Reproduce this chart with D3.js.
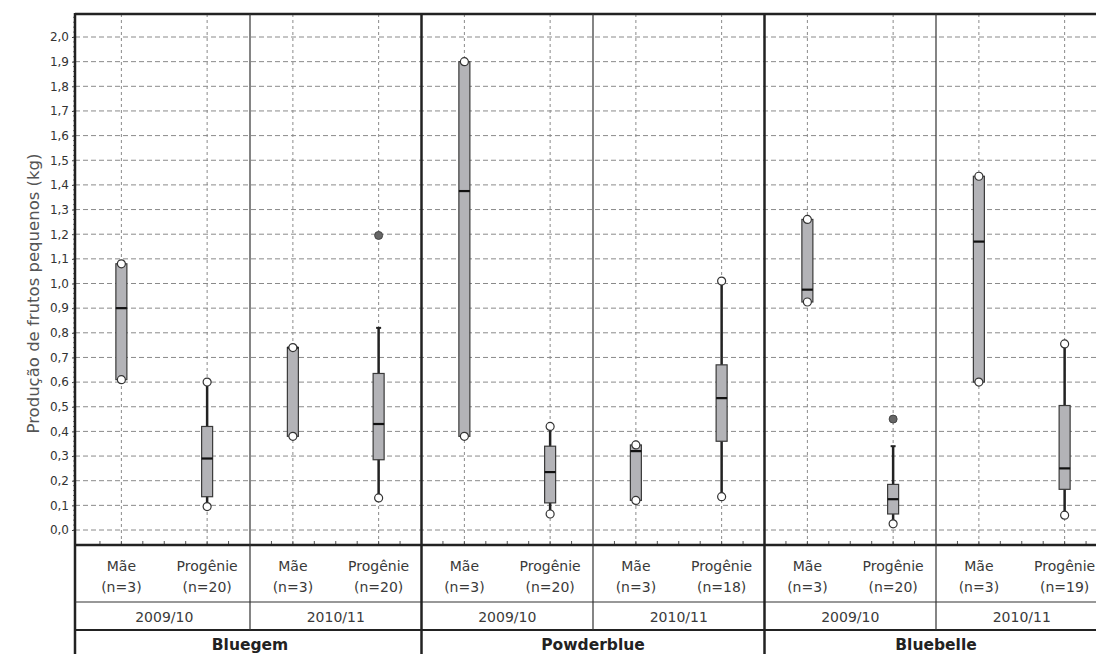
<!DOCTYPE html>
<html>
<head>
<meta charset="utf-8">
<script src="https://cdn.jsdelivr.net/npm/d3@7"></script>
<style>
  body { margin: 0; background: #fff; }
  svg { display: block; font-family: 'DejaVu Sans', sans-serif; }
  .grid line { stroke: #8a8a8a; stroke-width: 1; }
  .tick text { fill: #333; }
  .lbl { fill: #3a3a3a; }
</style>
</head>
<body>
<svg id="chart"></svg>
<script>
var cultivars = ['Bluegem', 'Powderblue', 'Bluebelle']
var seasons = ['2009/10', '2010/11']
var types = ['Mãe', 'Progênie']
var nLabels = ['(n=3)', '(n=20)', '(n=3)', '(n=20)', '(n=3)', '(n=20)',
  '(n=3)', '(n=18)', '(n=3)', '(n=20)', '(n=3)', '(n=19)']

// one entry per box, in cultivar / season / type order
var lows    = [0.61, 0.095, 0.38, 0.13,  0.38, 0.065, 0.12, 0.135, 0.925, 0.025, 0.60, 0.06]
var q1s     = [0.61, 0.135, 0.38, 0.285, 0.38, 0.11,  0.12, 0.36,  0.925, 0.065, 0.60, 0.165]
var medians = [0.90, 0.29,  0.74, 0.43,  1.375, 0.235, 0.32, 0.535, 0.975, 0.125, 1.17, 0.25]
var q3s     = [1.08, 0.42,  0.74, 0.635, 1.90, 0.34,  0.345, 0.67, 1.26,  0.185, 1.435, 0.505]
var highs   = [1.08, 0.60,  0.74, 0.82,  1.90, 0.42,  0.345, 1.01, 1.26,  0.34,  1.435, 0.755]
var outliers = [[], [], [], [1.195], [], [], [], [], [], [0.45], [], []]

var yTicks = d3.range(0, 21).map(function(i) { return i / 10 })

var svgWidth = 1096
var svgHeight = 654
var plotLeft = 75
var plotTop = 14
var plotBottom = 545
var rowN = 602
var rowSeason = 630
var boxW = 11
var circleR = 4

var svg = d3.select('#chart').attr('width', svgWidth).attr('height', svgHeight)

var groups = []
cultivars.forEach(function(c) { seasons.forEach(function(s) { groups.push(c + '|' + s) }) })

var boxes = []
groups.forEach(function(g, gi) {
  types.forEach(function(t, ti) {
    var i = gi * 2 + ti
    boxes.push({ group: g, type: t, n: nLabels[i], lo: lows[i], q1: q1s[i], med: medians[i],
      q3: q3s[i], hi: highs[i], out: outliers[i] })
  })
})

var groupW = 171.5
var x0 = d3.scaleBand().domain(groups).range([78.5, 78.5 + groups.length * groupW])
var x1 = d3.scaleBand().domain(types).range([0, x0.bandwidth()])
var xc = function(d) { return x0(d.group) + x1(d.type) + x1.bandwidth() / 2 }
var y = d3.scaleLinear().domain([0, 2]).range([530, 37])
var fmt = function(v) { return d3.format('.1f')(v).replace('.', ',') }

// grid
var grid = svg.append('g').attr('class', 'grid')
grid.selectAll('line.h').data(yTicks).enter().append('line')
  .attr('x1', plotLeft).attr('x2', svgWidth)
  .attr('y1', function(d) { return y(d) }).attr('y2', function(d) { return y(d) })
  .attr('stroke-dasharray', '5,3')
grid.selectAll('line.v').data(boxes).enter().append('line')
  .attr('x1', xc).attr('x2', xc)
  .attr('y1', plotTop).attr('y2', plotBottom)
  .attr('stroke-dasharray', '3,3')

// minor ticks along the bottom of the plot
var minor = []
groups.forEach(function(g) { d3.range(1, 8).forEach(function(k) { minor.push(x0(g) + x0.bandwidth() * k / 8) }) })
svg.append('g').selectAll('line').data(minor).enter().append('line')
  .attr('x1', function(d) { return d }).attr('x2', function(d) { return d })
  .attr('y1', plotBottom - 4).attr('y2', plotBottom)
  .attr('stroke', '#555').attr('stroke-width', 1)

// y axis
var yAxis = d3.axisLeft(y).tickValues(yTicks).tickFormat(fmt).tickSize(3).tickPadding(3)
var ya = svg.append('g').attr('transform', 'translate(' + plotLeft + ',0)').call(yAxis)
ya.select('.domain').remove()
ya.selectAll('.tick line').attr('stroke', '#444')
ya.selectAll('.tick text').attr('font-size', 12).attr('font-family', 'DejaVu Sans, sans-serif')
svg.append('g').selectAll('line').data(d3.range(0, 2.09, 0.02)).enter().append('line')
  .attr('x1', plotLeft - 2).attr('x2', plotLeft)
  .attr('y1', function(d) { return y(d) }).attr('y2', function(d) { return y(d) })
  .attr('stroke', '#777').attr('stroke-width', 1)

svg.append('text')
  .attr('transform', 'translate(39,' + ((y(0) + y(2)) / 2 + 10) + ') rotate(-90)')
  .attr('text-anchor', 'middle').attr('font-size', 16.5).attr('fill', '#555')
  .text('Produção de frutos pequenos (kg)')

// boxes
var bg = svg.append('g').selectAll('g.box').data(boxes).enter().append('g')
  .attr('class', 'box')
  .attr('transform', function(d) { return 'translate(' + xc(d) + ',0)' })

bg.each(function(d) {
  var g = d3.select(this)
  var hasHighOut = d.out.some(function(v) { return v > d.hi })
  var hasLowOut = d.out.some(function(v) { return v < d.lo })
  if (d.hi > d.q3 || d.lo < d.q1) {
    g.append('line').attr('x1', 0).attr('x2', 0)
      .attr('y1', y(d.hi)).attr('y2', y(d.lo))
      .attr('stroke', '#222').attr('stroke-width', 2.5)
  }
  g.append('rect')
    .attr('x', -boxW / 2).attr('width', boxW)
    .attr('y', y(d.q3)).attr('height', y(d.q1) - y(d.q3))
    .attr('fill', '#b3b3b7').attr('stroke', '#3a3a3a').attr('stroke-width', 1.2)
  g.append('line').attr('x1', -boxW / 2).attr('x2', boxW / 2)
    .attr('y1', y(d.med)).attr('y2', y(d.med))
    .attr('stroke', '#111').attr('stroke-width', 2.2)

  var ends = [{ v: d.hi, out: hasHighOut }, { v: d.lo, out: hasLowOut }]
  ends.forEach(function(e) {
    if (e.out) {
      g.append('line').attr('x1', -2.5).attr('x2', 2.5)
        .attr('y1', y(e.v)).attr('y2', y(e.v))
        .attr('stroke', '#222').attr('stroke-width', 2)
    } else {
      g.append('circle').attr('cx', 0).attr('cy', y(e.v)).attr('r', circleR)
        .attr('fill', '#fff').attr('stroke', '#333').attr('stroke-width', 1.2)
    }
  })
  d.out.forEach(function(v) {
    g.append('circle').attr('cx', 0).attr('cy', y(v)).attr('r', circleR)
      .attr('fill', '#666').attr('stroke', '#444').attr('stroke-width', 1)
  })
})

// frame and table lines
var thick = '#222'
svg.append('line').attr('x1', plotLeft).attr('x2', svgWidth).attr('y1', plotTop).attr('y2', plotTop)
  .attr('stroke', thick).attr('stroke-width', 2.5)
svg.append('line').attr('x1', plotLeft).attr('x2', plotLeft).attr('y1', plotTop - 1).attr('y2', svgHeight)
  .attr('stroke', thick).attr('stroke-width', 2.5)
svg.append('line').attr('x1', plotLeft).attr('x2', svgWidth).attr('y1', plotBottom).attr('y2', plotBottom)
  .attr('stroke', thick).attr('stroke-width', 2.5)
svg.append('line').attr('x1', plotLeft).attr('x2', svgWidth).attr('y1', rowN).attr('y2', rowN)
  .attr('stroke', '#333').attr('stroke-width', 1.2)
svg.append('line').attr('x1', plotLeft).attr('x2', svgWidth).attr('y1', rowSeason).attr('y2', rowSeason)
  .attr('stroke', thick).attr('stroke-width', 2)

groups.forEach(function(g, gi) {
  if (gi === 0) return
  var isCultivarEdge = gi % seasons.length === 0
  svg.append('line').attr('x1', x0(g)).attr('x2', x0(g))
    .attr('y1', plotTop).attr('y2', isCultivarEdge ? svgHeight : rowSeason)
    .attr('stroke', isCultivarEdge ? thick : '#333')
    .attr('stroke-width', isCultivarEdge ? 2.5 : 1.2)
})

// table text
var tx = svg.append('g').attr('class', 'lbl').attr('text-anchor', 'middle')
tx.selectAll('text.t').data(boxes).enter().append('text')
  .attr('x', xc).attr('y', 571).attr('font-size', 14).text(function(d) { return d.type })
tx.selectAll('text.n').data(boxes).enter().append('text')
  .attr('x', xc).attr('y', 592).attr('font-size', 14).text(function(d) { return d.n })
tx.selectAll('text.s').data(groups).enter().append('text')
  .attr('x', function(g) { return x0(g) + x0.bandwidth() / 2 }).attr('y', 622)
  .attr('font-size', 14).text(function(g) { return g.split('|')[1] })
tx.selectAll('text.c').data(cultivars).enter().append('text')
  .attr('x', function(c) { return x0(c + '|' + seasons[0]) + x0.bandwidth() })
  .attr('y', 650).attr('font-size', 15.5).attr('font-weight', 'bold').attr('fill', '#222')
  .text(function(c) { return c })
</script>
</body>
</html>
